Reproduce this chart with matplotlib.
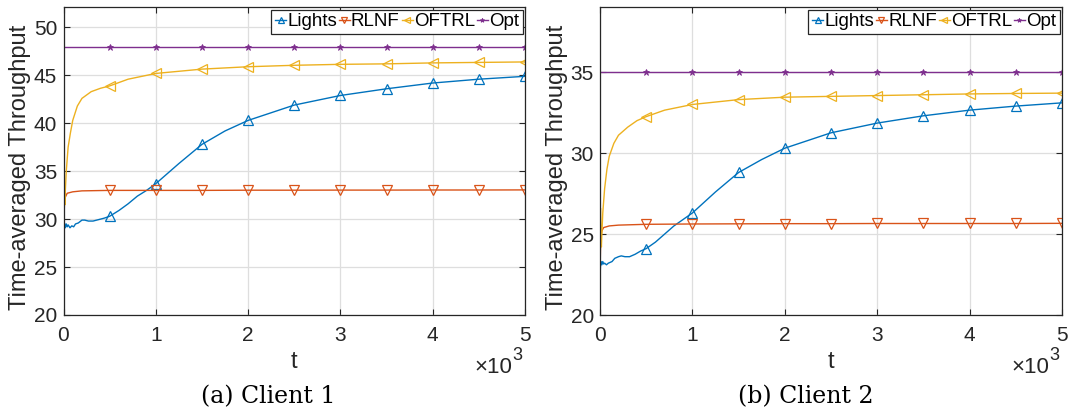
import matplotlib
matplotlib.use("Agg")
import matplotlib.pyplot as plt

# values (t in steps, y = time-averaged throughput)
t_lights = [0, 5, 10, 20, 30, 40, 50, 70, 90, 110, 130, 160, 200, 230, 270, 320,
            380, 440, 500, 600, 700, 800, 900, 1000, 1250, 1500, 1750, 2000,
            2500, 3000, 3500, 4000, 4500, 5000]
c1_lights = [27.3, 29.0, 29.6, 29.1, 29.5, 29.2, 29.4, 29.1, 29.3, 29.2, 29.5, 29.6,
             29.9, 29.9, 29.8, 29.8, 29.95, 30.1, 30.3, 30.9, 31.6, 32.4, 33.0, 33.7,
             35.8, 37.8, 39.2, 40.3, 41.9, 42.9, 43.6, 44.2, 44.6, 44.9]
c2_lights = [22.3, 23.0, 23.3, 23.1, 23.3, 23.15, 23.2, 23.1, 23.2, 23.25, 23.3, 23.5,
             23.6, 23.65, 23.6, 23.6, 23.75, 23.95, 24.1, 24.5, 25.0, 25.5, 25.9, 26.3,
             27.6, 28.8, 29.6, 30.3, 31.25, 31.85, 32.3, 32.65, 32.9, 33.1]

t_rlnf = [0, 5, 10, 20, 40, 100, 200, 500, 1000, 1500, 2000, 2500, 3000, 3500,
          4000, 4500, 5000]
c1_rlnf = [27.0, 30.0, 31.5, 32.3, 32.7, 32.85, 32.95, 33.0, 33.0, 33.0, 33.02,
           33.02, 33.03, 33.03, 33.04, 33.04, 33.05]
c2_rlnf = [22.5, 24.0, 24.8, 25.2, 25.4, 25.5, 25.55, 25.6, 25.62, 25.63, 25.64,
           25.64, 25.65, 25.65, 25.65, 25.65, 25.66]

t_oftrl = [0, 5, 10, 15, 20, 30, 50, 75, 100, 150, 200, 300, 400, 500, 700, 1000,
           1500, 2000, 2500, 3000, 3500, 4000, 4500, 5000]
c1_oftrl = [27.0, 35.5, 33.0, 31.5, 33.0, 35.0, 37.5, 39.0, 40.3, 41.8, 42.6, 43.3,
            43.65, 43.9, 44.6, 45.2, 45.65, 45.9, 46.05, 46.15, 46.2, 46.3, 46.35, 46.4]
c2_oftrl = [22.5, 26.6, 25.0, 24.2, 25.0, 26.3, 27.8, 29.0, 29.8, 30.6, 31.1, 31.6,
            32.0, 32.25, 32.65, 33.0, 33.3, 33.45, 33.5, 33.55, 33.6, 33.65, 33.68, 33.7]

t_opt = [0, 500, 1000, 1500, 2000, 2500, 3000, 3500, 4000, 4500, 5000]
c1_opt = [48] * len(t_opt)
c2_opt = [35] * len(t_opt)

clients = [
    dict(lights=c1_lights, rlnf=c1_rlnf, oftrl=c1_oftrl, opt=c1_opt,
         ylim=(20, 52.1), yticks=[20, 25, 30, 35, 40, 45, 50], caption="(a) Client 1"),
    dict(lights=c2_lights, rlnf=c2_rlnf, oftrl=c2_oftrl, opt=c2_opt,
         ylim=(20, 39.0), yticks=[20, 25, 30, 35], caption="(b) Client 2"),
]

BLUE, ORANGE, YELLOW, PURPLE = "#0072BD", "#D95319", "#EDB120", "#7E2F8E"
DARK = "#262626"
plt.rcParams["font.family"] = ["Liberation Sans", "DejaVu Sans"]


def marks(t):
    return [x > 0 and x % 500 == 0 for x in t]


fig = plt.figure(figsize=(10.68, 4.13), dpi=100)
rects = [[63.5 / 1068, 98 / 413, 461.5 / 1068, 307.7 / 413],
         [600 / 1068, 98 / 413, 462 / 1068, 307.7 / 413]]
caption_x = [268 / 1068, 806 / 1068]

for rect, cx, c in zip(rects, caption_x, clients):
    ax = fig.add_axes(rect)
    kw = dict(lw=1.0, ms=6.5, mfc="none", mew=0.9)
    ax.plot(t_lights, c["lights"], color=BLUE, marker="^", markevery=marks(t_lights),
            label="Lights", **kw)
    ax.plot(t_rlnf, c["rlnf"], color=ORANGE, marker="v", markevery=marks(t_rlnf),
            label="RLNF", **kw)
    ax.plot(t_oftrl, c["oftrl"], color=YELLOW, marker="<", markevery=marks(t_oftrl),
            label="OFTRL", **kw)
    ax.plot(t_opt, c["opt"], color=PURPLE, marker="*", markevery=marks(t_opt),
            label="Opt", lw=1.0, ms=5, mew=0.6)

    ax.set_xlim(0, 5000)
    ax.set_ylim(*c["ylim"])
    ax.set_xticks(range(0, 5001, 1000))
    ax.set_xticklabels([str(i) for i in range(6)])
    ax.set_yticks(c["yticks"])
    ax.grid(True, color="#dedede", lw=0.9)
    ax.set_axisbelow(True)
    ax.tick_params(direction="in", top=True, right=True, labelsize=15,
                   colors=DARK, length=4)
    ax.tick_params(axis="x", pad=8)
    ax.tick_params(axis="y", pad=4.5)
    for s in ax.spines.values():
        s.set_color(DARK)
        s.set_linewidth(0.9)
    ax.set_xlabel("t", fontsize=17, color=DARK, labelpad=4)
    ax.set_ylabel("Time-averaged Throughput", fontsize=17, color=DARK)
    ax.yaxis.set_label_coords(-0.07, 0.48)
    # MATLAB-style exponent under the right end of the x axis
    ax.text(0.972, -0.19, "\u00d710", transform=ax.transAxes, ha="right",
            va="baseline", fontsize=16, color=DARK)
    ax.text(0.972, -0.145, "3", transform=ax.transAxes, ha="left",
            va="baseline", fontsize=13, color=DARK)
    leg = ax.legend(loc="upper right", ncol=4, fontsize=13.5, handlelength=0.6,
                    handletextpad=0.05, columnspacing=0.1, borderpad=0.2,
                    borderaxespad=0.12, fancybox=False, framealpha=1, markerscale=0.65)
    leg.get_frame().set_edgecolor(DARK)
    leg.get_frame().set_linewidth(0.9)
    fig.text(cx, 16 / 413, c["caption"], ha="center", va="center",
             fontsize=17, family="DejaVu Serif")

fig.savefig("out.png", dpi=100)
